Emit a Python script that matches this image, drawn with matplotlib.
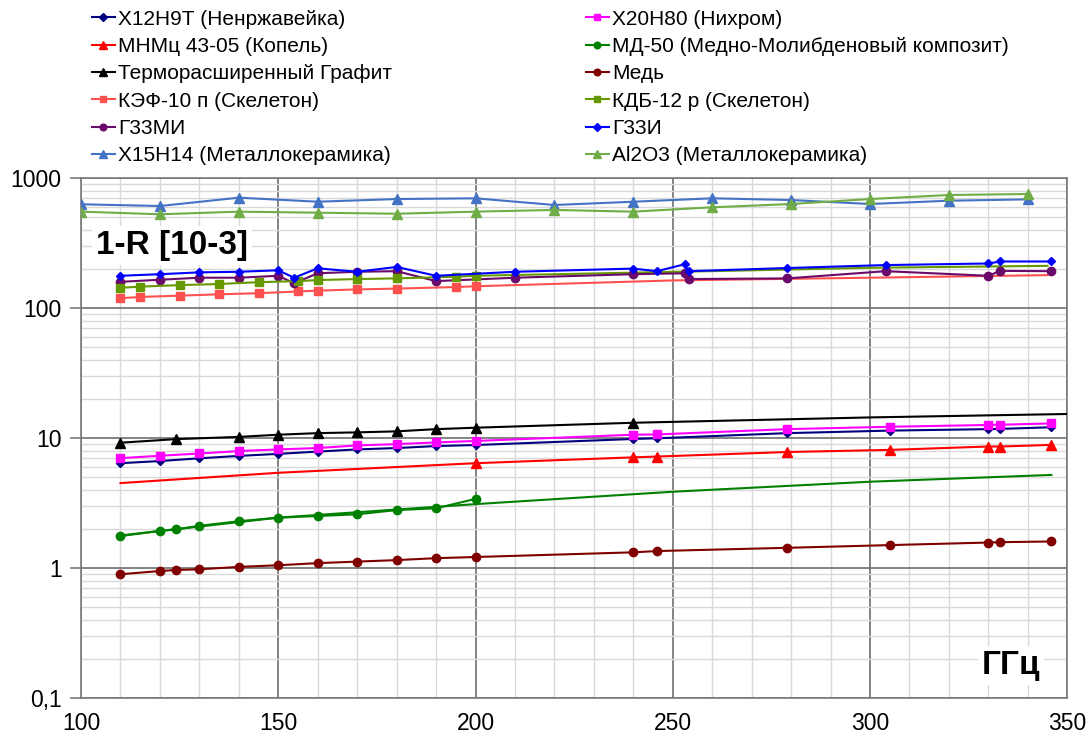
import matplotlib
matplotlib.use('Agg')
import matplotlib.pyplot as plt
from matplotlib.ticker import FixedLocator, FuncFormatter, LogLocator, NullFormatter

plt.rcParams['font.family'] = ['Liberation Sans', 'DejaVu Sans']

# Частоты (ГГц) и значения 1-R [10-3]
x_h12 = [110, 120, 130, 140, 150, 160, 170, 180, 190, 200, 240, 246, 279, 305, 330, 333, 346]
y_h12 = [6.4, 6.65, 6.98, 7.28, 7.55, 7.86, 8.17, 8.37, 8.67, 8.83, 9.83, 9.95, 10.9, 11.4, 11.7, 11.75, 12.1]
y_h20 = [7.0, 7.3, 7.6, 7.93, 8.17, 8.37, 8.77, 8.97, 9.25, 9.49, 10.6, 10.65, 11.7, 12.2, 12.6, 12.65, 12.95]

x_mnmc = [110, 150, 200, 240, 246, 279, 305, 330, 333, 346]
y_mnmc = [4.5, 5.4, 6.4, 7.1, 7.2, 7.8, 8.1, 8.6, 8.6, 8.85]

x_graf = [110, 124, 140, 150, 160, 170, 180, 190, 200, 240]
y_graf = [9.2, 9.8, 10.2, 10.6, 10.9, 11.05, 11.25, 11.7, 12.0, 13.1]
x_graf_tr = [240, 300, 350]
y_graf_tr = [13.1, 14.4, 15.3]

x_md = [110, 120, 124, 130, 140, 150, 160, 170, 180, 190, 200]
y_md = [1.76, 1.93, 1.98, 2.11, 2.29, 2.44, 2.51, 2.59, 2.79, 2.88, 3.4]
x_md_tr = [110, 150, 200, 250, 300, 346]
y_md_tr = [1.78, 2.44, 3.1, 3.86, 4.61, 5.2]

x_cu = [110, 120, 124, 130, 140, 150, 160, 170, 180, 190, 200, 240, 246, 279, 305, 330, 333, 346]
y_cu = [0.895, 0.948, 0.965, 0.977, 1.02, 1.05, 1.09, 1.12, 1.15, 1.19, 1.215, 1.32, 1.35, 1.43, 1.5, 1.57, 1.58, 1.6]

x_skel = [110, 115, 125, 135, 145, 155, 160, 170, 180, 195, 200]
y_kef = [119, 121.6, 124.5, 127.4, 130, 134, 136, 139, 141, 145, 147]
x_kef_tr = [200, 250, 300, 345]
y_kef_tr = [147, 163, 171, 179]
y_kdb = [143, 146, 150, 153, 158, 161, 164, 167, 169, 174, 177]
x_kdb_tr = [200, 263, 300, 345]
y_kdb_tr = [177, 193, 204, 211]

x_g33mi = [110, 120, 130, 140, 150, 154, 160, 170, 180, 190, 210, 240, 253, 254, 279, 304, 330, 333, 346]
y_g33mi = [159, 165, 171, 171, 177, 155, 185, 190, 192, 161, 171, 182, 185, 167, 169, 192, 177, 193, 192]
x_g33i = [110, 120, 130, 140, 150, 154, 160, 170, 180, 190, 210, 240, 246, 253, 254, 279, 304, 330, 333, 346]
y_g33i = [177, 182, 188, 190, 195, 171, 202, 190, 207, 177, 190, 201, 192, 217, 192, 203, 214, 220, 228, 228]

x_cer = [100, 120, 140, 160, 180, 200, 220, 240, 260, 280, 300, 320, 340]
y_h15 = [628, 609, 706, 657, 689, 698, 620, 657, 698, 677, 631, 669, 685]
y_al2o3 = [551, 526, 551, 541, 531, 551, 568, 551, 595, 631, 689, 740, 753]

fig = plt.figure(figsize=(10.89, 7.47), dpi=100)
ax = fig.add_axes([0.0744, 0.0656, 0.9056, 0.6961])

lw = 1.5
# подпись, x, y, цвет, маркер, размер, индекс первого маркера
series = [
    ('Х12Н9Т (Ненржавейка)', x_h12, y_h12, '#000080', 'D', 4.5, 0),
    ('МНМц 43-05 (Копель)', x_mnmc, y_mnmc, '#ff0000', '^', 6.5, 2),
    ('Терморасширенный Графит', x_graf, y_graf, '#000000', '^', 6.5, 0),
    ('КЭФ-10 п (Скелетон)', x_skel, y_kef, '#ff5050', 's', 6, 0),
    ('Г33МИ', x_g33mi, y_g33mi, '#6a0a6a', 'o', 6, 0),
    ('Х15Н14 (Металлокерамика)', x_cer, y_h15, '#4472c4', '^', 7, 0),
    ('Х20Н80 (Нихром)', x_h12, y_h20, '#ff00ff', 's', 6, 0),
    ('МД-50 (Медно-Молибденовый композит)', x_md, y_md, '#008000', 'o', 6, 0),
    ('Медь', x_cu, y_cu, '#800000', 'o', 6, 0),
    ('КДБ-12 р (Скелетон)', x_skel, y_kdb, '#669900', 's', 6, 0),
    ('Г33И', x_g33i, y_g33i, '#0000ff', 'D', 4.5, 0),
    ('Al2O3 (Металлокерамика)', x_cer, y_al2o3, '#70ad47', '^', 7, 0),
]

# продолжения (линии без маркеров)
ax.plot(x_graf_tr, y_graf_tr, color='#000000', lw=lw, zorder=3)
ax.plot(x_md_tr, y_md_tr, color='#008000', lw=lw, zorder=3)
ax.plot(x_kef_tr, y_kef_tr, color='#ff5050', lw=lw, zorder=3)
ax.plot(x_kdb_tr, y_kdb_tr, color='#669900', lw=lw, zorder=3)

handles = []
for name, xs, ys, col, mk, ms, m0 in series:
    h, = ax.plot(xs, ys, color=col, lw=lw, marker=mk, markersize=ms,
                 markevery=slice(m0, None), label=name, zorder=4)
    handles.append(h)

ax.set_yscale('log')
ax.set_xlim(100, 350)
ax.set_ylim(0.1, 1000)
ax.xaxis.set_major_locator(FixedLocator([100, 150, 200, 250, 300, 350]))
ax.xaxis.set_minor_locator(FixedLocator(list(range(100, 351, 10))))
ax.yaxis.set_major_locator(FixedLocator([0.1, 1, 10, 100, 1000]))
ax.yaxis.set_minor_locator(LogLocator(base=10, subs=range(2, 10)))
ax.yaxis.set_minor_formatter(NullFormatter())
ax.yaxis.set_major_formatter(FuncFormatter(lambda v, p: ('%g' % v).replace('.', ',')))

ax.grid(which='minor', color='#d9d9d9', lw=1.0, zorder=0)
ax.grid(which='major', color='#6e6e6e', lw=1.2, zorder=1)
ax.set_axisbelow(True)
for s in ax.spines.values():
    s.set_color('#7a7a7a')
    s.set_linewidth(1.2)

ax.tick_params(axis='y', which='major', length=8, width=1.2, color='#7a7a7a', labelsize=16.5, pad=6)
ax.tick_params(axis='x', which='major', length=0, labelsize=16.5, pad=10)
ax.tick_params(which='minor', length=0)

ax.text(0.092, 0.871, '1-R [10-3]', transform=ax.transAxes, fontsize=24, fontweight='bold',
        ha='center', va='center', zorder=5,
        bbox=dict(facecolor='white', edgecolor='none', pad=3))
ax.text(0.943, 0.063, 'ГГц', transform=ax.transAxes, fontsize=24, fontweight='bold',
        ha='center', va='center', zorder=5,
        bbox=dict(facecolor='white', edgecolor='none', pad=3))

fig.legend(handles=handles, ncol=2, loc='upper left', bbox_to_anchor=(0.0845, 0.987),
           frameon=False, fontsize=15, handlelength=1.1, handletextpad=0.15,
           labelspacing=0.4, columnspacing=9.3, borderpad=0, borderaxespad=0,
           markerscale=0.8)

fig.savefig('out.png', dpi=100)
